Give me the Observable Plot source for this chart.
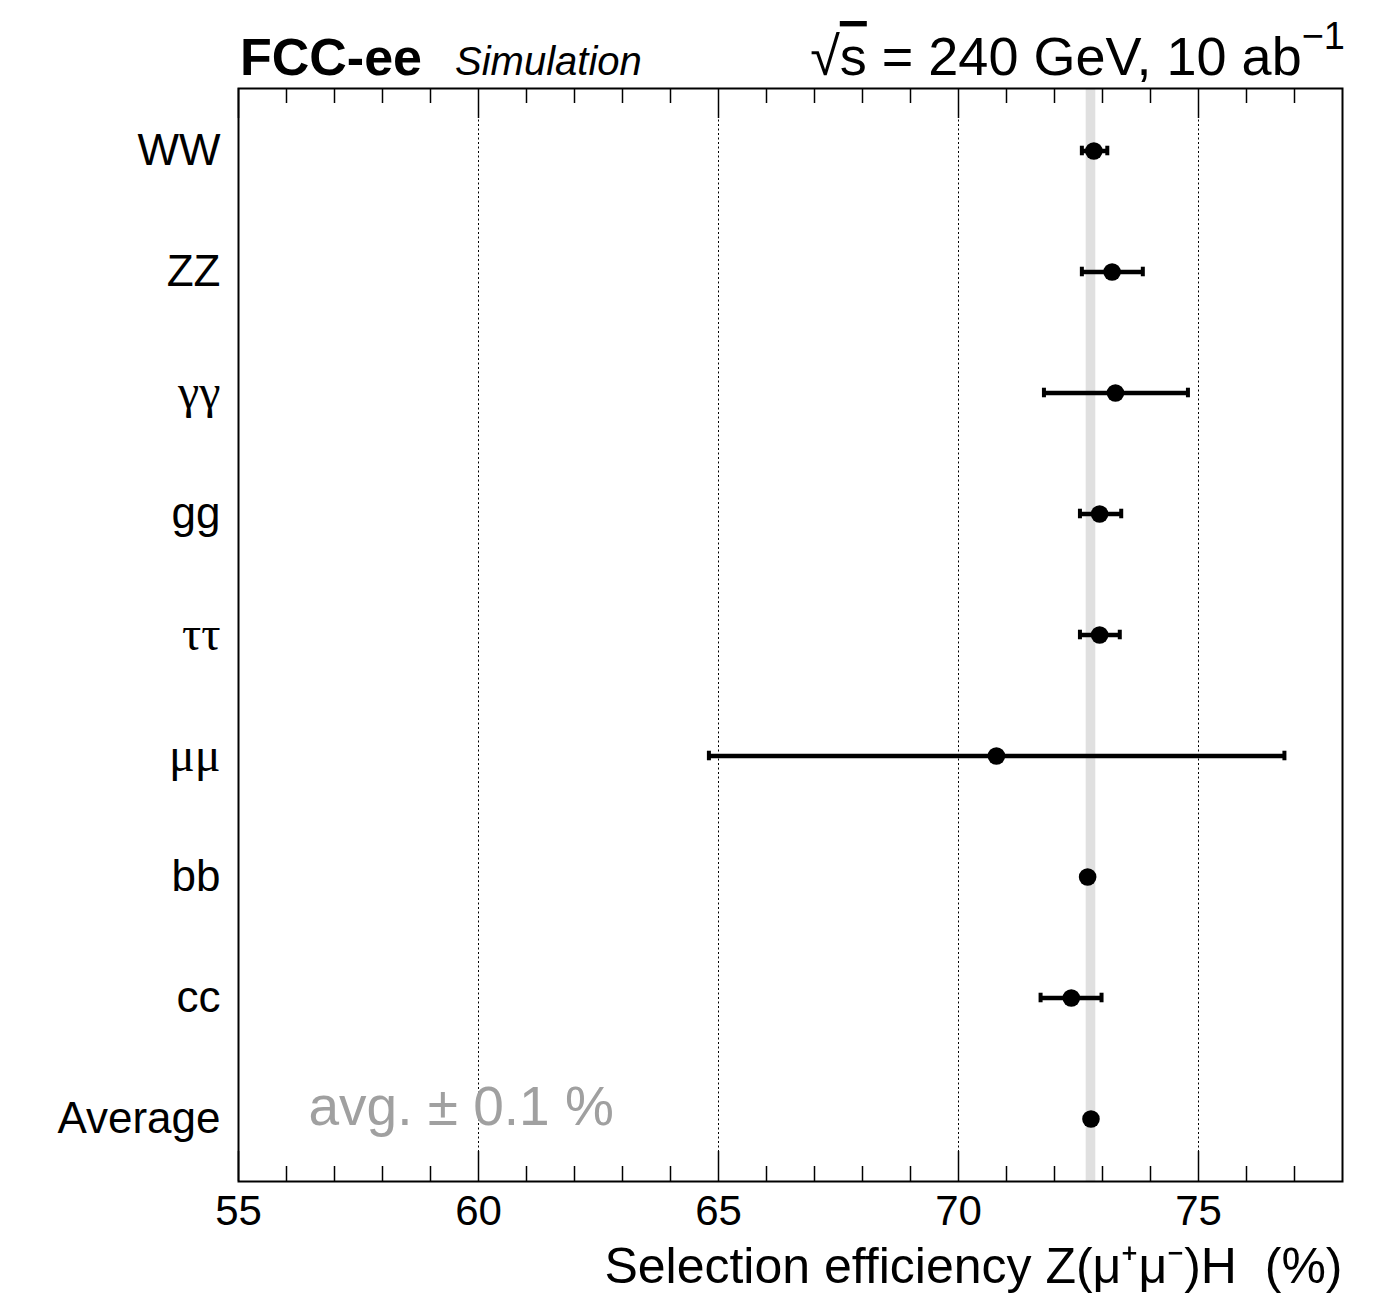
<!DOCTYPE html>
<html>
<head>
<meta charset="utf-8">
<script src="https://cdn.jsdelivr.net/npm/d3@7"></script>
<script src="https://cdn.jsdelivr.net/npm/@observablehq/plot@0.6"></script>
<style>
  html, body { margin: 0; padding: 0; background: #fff; }
  svg { display: block; }
</style>
</head>
<body>
<script>
// Z(μ+μ−)H selection efficiency for each Higgs decay channel
const categories = ["WW", "ZZ", "γγ", "gg", "ττ", "μμ", "bb", "cc", "Average"];
const efficiency = [72.82, 73.20, 73.27, 72.94, 72.94, 70.79, 72.69, 72.35, 72.76];
const errLow     = [72.57, 72.57, 71.78, 72.53, 72.53, 64.80, null, 71.71, null];
const errHigh    = [73.10, 73.84, 74.78, 73.39, 73.36, 76.79, null, 72.98, null];

// band drawn around the average
const average = 72.76;
const bandHalf = 0.1;

// axis ticks
const majorTicks = [55, 60, 65, 70, 75];
const minorTicks = d3.range(56, 78).filter(v => v % 5 !== 0);
const gridLines = [60, 65, 70, 75];
const xDomain = [55, 78];

const xTitle = "Selection efficiency Z(μ⁺μ⁻)H\u00a0\u00a0(%)";

const W = 1399, H = 1294;
const M = {top: 88, right: 57, bottom: 113, left: 238};
const innerH = H - M.top - M.bottom;
const bandH = innerH / categories.length;
const capH = 10;

const rows = categories.map((c, i) => ({category: c, value: efficiency[i], lo: errLow[i], hi: errHigh[i]}));
const withErr = rows.filter(d => d.lo != null);

const chart = Plot.plot({
  width: W,
  height: H,
  marginTop: M.top,
  marginRight: M.right,
  marginBottom: M.bottom,
  marginLeft: M.left,
  x: {domain: xDomain},
  y: {domain: categories, type: "band", padding: 0},
  style: {fontFamily: "'Liberation Sans', Arial, Helvetica, sans-serif", color: "black", background: "white"},
  marks: [
    Plot.rect([average], {x1: d => d - bandHalf, x2: d => d + bandHalf, fill: "#e0e0e0"}),
    Plot.ruleX(gridLines, {stroke: "black", strokeWidth: 1, strokeDasharray: "2,2.5"}),
    Plot.ruleX(minorTicks, {insetTop: innerH - 15, strokeWidth: 1.5}),
    Plot.ruleX(minorTicks, {insetBottom: innerH - 15, strokeWidth: 1.5}),
    Plot.ruleX(majorTicks, {insetTop: innerH - 30, strokeWidth: 1.5}),
    Plot.ruleX(majorTicks, {insetBottom: innerH - 30, strokeWidth: 1.5}),
    Plot.axisX({ticks: majorTicks, tickSize: 0, tickPadding: 14, fontSize: 42, label: null, tickFormat: d => String(d)}),
    Plot.axisY({tickSize: 0, tickPadding: 18, fontSize: 44, label: null}),
    Plot.ruleY(withErr, {y: "category", x1: "lo", x2: "hi", stroke: "black", strokeWidth: 4.5}),
    Plot.tickX(withErr, {x: "lo", y: "category", strokeWidth: 4, insetTop: (bandH - capH) / 2, insetBottom: (bandH - capH) / 2}),
    Plot.tickX(withErr, {x: "hi", y: "category", strokeWidth: 4, insetTop: (bandH - capH) / 2, insetBottom: (bandH - capH) / 2}),
    Plot.dot(rows, {x: "value", y: "category", r: 8.8, fill: "black", stroke: "none"}),
    Plot.text([{category: "Average", label: `avg. ± ${bandHalf} %`}], {
      y: "category", text: "label", frameAnchor: "left", dx: 70, dy: -12,
      textAnchor: "start", fontSize: 55, fill: "#a0a0a0"
    }),
    Plot.text([xTitle], {
      frameAnchor: "bottom-right", textAnchor: "end", lineAnchor: "top",
      dy: 66, fontSize: 50, fill: "black"
    }),
    Plot.frame({stroke: "black", strokeWidth: 2})
  ]
});

document.body.appendChild(chart);

const svg = d3.select(chart);

// Greek channel labels in a serif face
svg.selectAll('g[aria-label="y-axis tick label"] text')
  .filter(function() { return /[γτμ]/.test(this.textContent); })
  .attr("font-family", "'Liberation Serif', 'DejaVu Serif', serif")
  .attr("font-size", 48);

// Header line
svg.append("text")
  .attr("x", 240).attr("y", 75)
  .attr("text-anchor", "start")
  .attr("font-size", 52).attr("font-weight", "bold")
  .attr("fill", "black")
  .text("FCC-ee");

svg.append("text")
  .attr("x", 455).attr("y", 75)
  .attr("text-anchor", "start")
  .attr("font-size", 40).attr("font-style", "italic")
  .attr("fill", "black")
  .text("Simulation");

const energy = svg.append("text")
  .attr("x", 1345).attr("y", 75)
  .attr("text-anchor", "end")
  .attr("font-size", 54)
  .attr("fill", "black");
energy.append("tspan").text("√");
energy.append("tspan").style("text-decoration", "overline").text("s");
energy.append("tspan").text(" = 240 GeV, 10 ab");
energy.append("tspan").attr("dy", -26).attr("font-size", 38).text("−1");
</script>
</body>
</html>
